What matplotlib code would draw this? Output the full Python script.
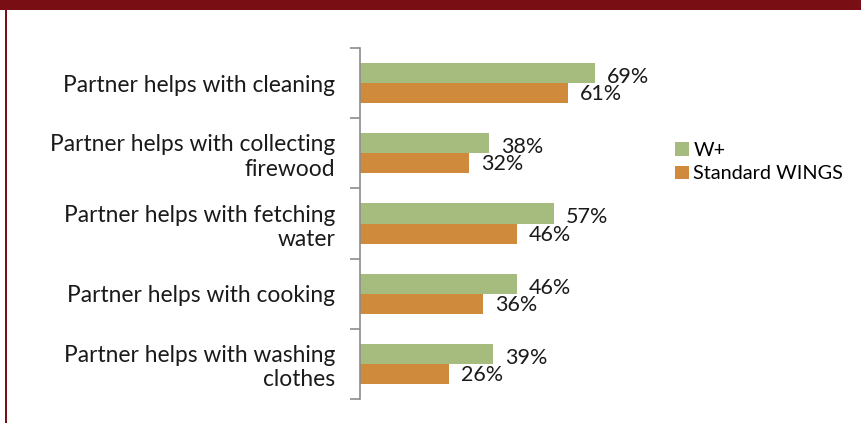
import matplotlib
matplotlib.use("Agg")
import matplotlib.pyplot as plt
import matplotlib.patches as patches

CATEGORIES = [
    "Partner helps with cleaning",
    "Partner helps with collecting\nfirewood",
    "Partner helps with fetching\nwater",
    "Partner helps with cooking",
    "Partner helps with washing\nclothes",
]
W_PLUS = [69, 38, 57, 46, 39]
STANDARD = [61, 32, 46, 36, 26]
SERIES = ["W+", "Standard WINGS"]

GREEN = "#A5BC7E"
ORANGE = "#CF8B3B"
MAROON = "#7A0E15"
FONT = ["Lato", "DejaVu Sans"]

plt.rcParams["font.family"] = FONT

W, H = 861, 423
fig = plt.figure(figsize=(W / 100, H / 100), dpi=100)

# Frame decoration: top band and left rule
fig.add_artist(patches.Rectangle((0, 1 - 10 / H), 1, 10 / H, transform=fig.transFigure,
                                 facecolor=MAROON, edgecolor="none"))
fig.add_artist(patches.Rectangle((5 / W, 0), 2 / W, 1, transform=fig.transFigure,
                                 facecolor=MAROON, edgecolor="none"))

XMAX = 80
left, right = 360 / W, (360 + XMAX * 3.406) / W
top, bottom = 1 - 48 / H, 1 - 399 / H
ax = fig.add_axes([left, bottom, right - left, top - bottom])

h = 0.285
pos = list(range(len(CATEGORIES)))
ax.barh([p - h / 2 for p in pos], W_PLUS, height=h, color=GREEN, label=SERIES[0])
ax.barh([p + h / 2 for p in pos], STANDARD, height=h, color=ORANGE, label=SERIES[1])

for p, a, b in zip(pos, W_PLUS, STANDARD):
    ax.annotate("{0}%".format(a), (a, p - h / 2), xytext=(12, -4), textcoords="offset pixels",
                ha="left", va="center", fontsize=15.5, color="#1a1a1a")
    ax.annotate("{0}%".format(b), (b, p + h / 2), xytext=(12, -1), textcoords="offset pixels",
                ha="left", va="center", fontsize=15.5, color="#1a1a1a")

ax.set_xlim(0, XMAX)
ax.set_ylim(len(CATEGORIES) - 0.5, -0.5)
ax.set_xticks([])
ax.set_yticks(pos)
ax.set_yticklabels(CATEGORIES, fontsize=16.4, color="#1a1a1a", linespacing=1.2)
ax.set_yticks([p - 0.5 for p in pos] + [len(pos) - 0.5], minor=True)
ax.tick_params(axis="y", which="major", length=0, pad=18)
ax.tick_params(axis="y", which="minor", length=7, width=1.2, color="#8c8c8c", direction="out")
for s in ("top", "right", "bottom"):
    ax.spines[s].set_visible(False)
ax.spines["left"].set_color("#8c8c8c")
ax.spines["left"].set_linewidth(1.2)

ax.legend(loc="upper left", bbox_to_anchor=(675 / W, 1 - 142 / H), bbox_transform=fig.transFigure,
          frameon=False, fontsize=14.3, handlelength=0.68, handleheight=0.68,
          handletextpad=0.25, labelspacing=0.32, borderaxespad=0, borderpad=0)

fig.savefig("out.png", dpi=100)
